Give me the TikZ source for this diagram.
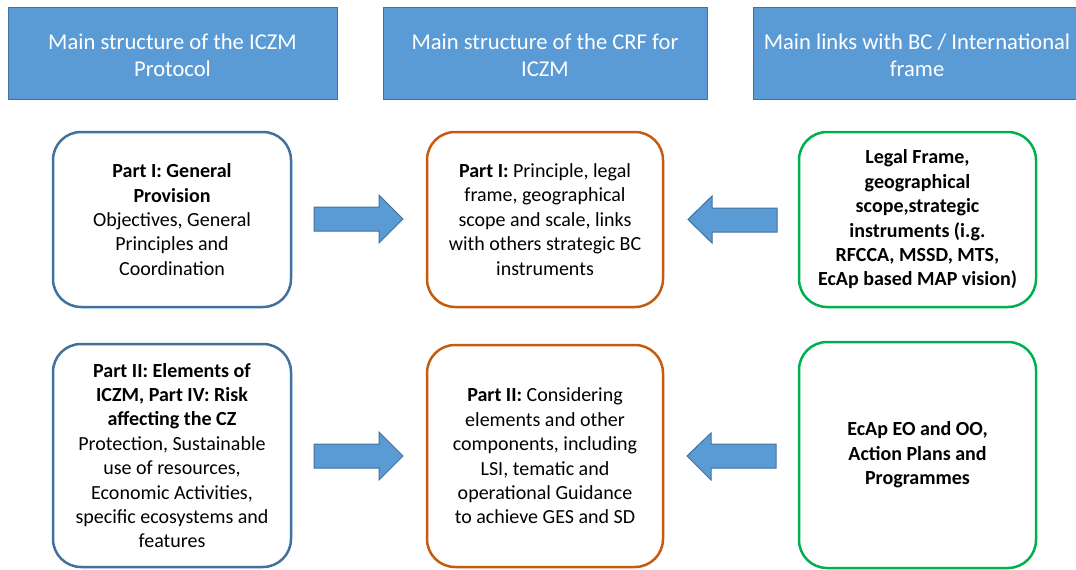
\documentclass[tikz,border=0pt]{standalone}
\usepackage{fontspec}
\setmainfont{Carlito}
\definecolor{hdrfill}{HTML}{5B9BD5}
\definecolor{hdrline}{HTML}{41719C}
\definecolor{bluebox}{HTML}{41719C}
\definecolor{orangebox}{HTML}{C55A11}
\definecolor{greenbox}{HTML}{00B050}
\tikzset{
  hdr/.style={rectangle, fill=hdrfill, draw=hdrline, line width=1pt, text=white, align=center, inner sep=0pt, font=\fontsize{22.6}{27.4}\selectfont},
  card/.style={rectangle, rounded corners=28pt, line width=2.5pt, fill=white, align=center, inner sep=0pt, font=\fontsize{20}{24.4}\selectfont, text=black},
  lcard/.style={card, draw=bluebox},
  ccard/.style={card, draw=orangebox},
  rcard/.style={card, draw=greenbox},
  barrow/.style={fill=hdrfill, draw=hdrline, line width=1pt, line join=miter},
}
\begin{document}
\begin{tikzpicture}[x=1pt,y=-1pt]
\useasboundingbox (0,0) rectangle (1076,570);
% headers
\node[hdr, minimum width=329pt, minimum height=92pt] (h1) at (172.5,53) {};
\node[hdr, minimum width=324pt, minimum height=92pt] (h2) at (545,53) {};
\node[hdr, minimum width=328pt, minimum height=92pt] (h3) at (917,53) {};
\node[hdr, draw=none, fill=none] (t1) at (172.5,55) {Main structure of the ICZM\\Protocol};
\node[hdr, draw=none, fill=none] (t2) at (545,55) {Main structure of the CRF for\\ICZM};
\node[hdr, draw=none, fill=none] (t3) at (917,55) {Main links with BC / International\\frame};
% row 1
\node[lcard, minimum width=238pt, minimum height=175pt] (l1) at (172,219.5)
  {\textbf{Part I: General}\\\textbf{Provision}\\Objectives, General\\Principles and\\Coordination};
\node[ccard, minimum width=236pt, minimum height=175pt] (c1) at (545,219.5)
  {\textbf{Part I:} Principle, legal\\frame, geographical\\scope and scale, links\\with others strategic BC\\instruments};
\node[rcard, minimum width=237pt, minimum height=175pt] (r1) at (917.5,219.5)
  {\textbf{Legal Frame,}\\\textbf{geographical}\\\textbf{scope,strategic}\\\textbf{instruments (i.g.}\\\textbf{RFCCA, MSSD, MTS,}\\\textbf{EcAp based MAP vision)}};
% row 2
\node[lcard, minimum width=238pt, minimum height=223pt] (l2) at (172,455.5)
  {\textbf{Part II: Elements of}\\\textbf{ICZM, Part IV: Risk}\\\textbf{affecting the CZ}\\Protection, Sustainable\\use of resources,\\Economic Activities,\\specific ecosystems and\\features};
\node[ccard, minimum width=236pt, minimum height=222pt] (c2) at (545,456)
  {\textbf{Part II:} Considering\\elements and other\\components, including\\LSI, tematic and\\operational Guidance\\to achieve GES and SD};
\node[rcard, minimum width=237pt, minimum height=226pt] (r2) at (917.5,455)
  {\textbf{EcAp EO and OO,}\\\textbf{Action Plans and}\\\textbf{Programmes}};
% block arrows
\draw[barrow] (314,207) -- (379,207) -- (379,195) -- (403,219) -- (379,243) -- (379,231) -- (314,231) -- cycle;
\draw[barrow] (777,208) -- (712,208) -- (712,196) -- (688,219.5) -- (712,243) -- (712,232) -- (777,232) -- cycle;
\draw[barrow] (314,444) -- (379,444) -- (379,432) -- (403,456) -- (379,480) -- (379,468) -- (314,468) -- cycle;
\draw[barrow] (776,444) -- (711,444) -- (711,433) -- (687,456) -- (711,480) -- (711,468) -- (776,468) -- cycle;
\end{tikzpicture}
\end{document}
